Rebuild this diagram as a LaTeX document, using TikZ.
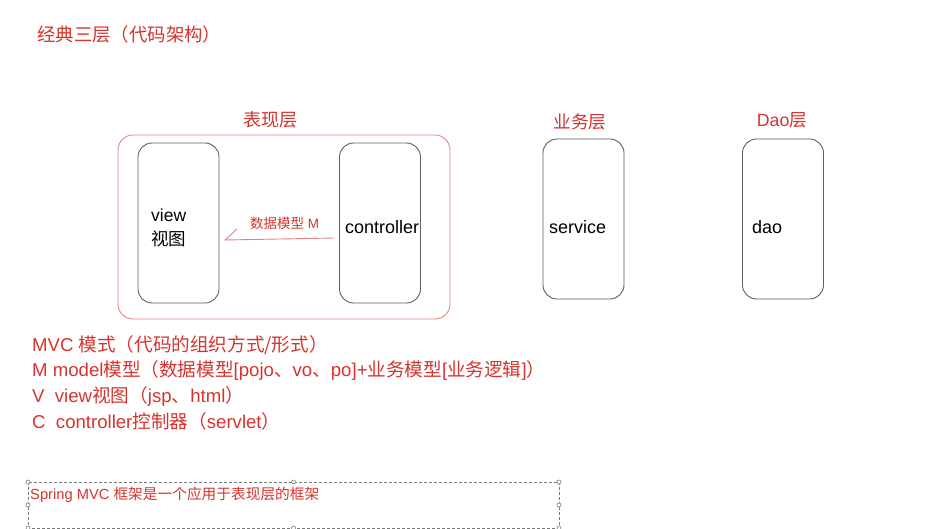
\documentclass[tikz,border=0pt]{standalone}
\usepackage{fontspec}
\setmainfont{Liberation Sans}
\newfontfamily\cjk{Noto Sans CJK SC}
\usetikzlibrary{calc}
\definecolor{txtred}{RGB}{214,52,46}
\definecolor{framered}{RGB}{232,130,130}
\definecolor{boxgray}{RGB}{95,95,95}
\definecolor{dashgray}{RGB}{120,120,120}
\begin{document}
\begin{tikzpicture}[x=1pt,y=-1pt,
  redtxt/.style={text=txtred,inner sep=0pt,anchor=west},
  blacktxt/.style={text=black,inner sep=0pt,anchor=west},
  layerbox/.style={draw=boxgray,line width=0.9pt,rounded corners=14pt,minimum width=81pt,minimum height=160pt,inner sep=0pt},
  groupbox/.style={draw=framered,line width=0.9pt,rounded corners=15pt,minimum width=332pt,minimum height=184pt,inner sep=0pt},
  handle/.style={circle,draw=dashgray,fill=white,line width=0.6pt,minimum size=4pt,inner sep=0pt},
  redline/.style={draw=framered,line width=0.9pt}]
\useasboundingbox (0,0) rectangle (930,529);
\fill[white] (0,0) rectangle (930,529);

% title
\node[redtxt] (title) at (37,35) {\fontsize{18.4}{21}\selectfont\cjk 经典三层（代码架构）};

% presentation layer group
\node[groupbox] (group) at (284,227) {};
\node[text=txtred,inner sep=0pt] (grouplbl) at (270,120) {\fontsize{18}{20}\selectfont\cjk 表现层};

\node[layerbox] (view) at (178.5,223) {};
\node[blacktxt] (viewtxt) at (151,215) {\fontsize{17.5}{20}\selectfont view};
\node[blacktxt] (viewcn) at (151,239) {\fontsize{17.5}{20}\selectfont\cjk 视图};

\node[layerbox] (ctrl) at (380,223) {};
\node[blacktxt] (ctrltxt) at (345,227) {\fontsize{18}{20}\selectfont controller};

\node[redtxt] (mlabel) at (250,223) {\fontsize{13.5}{16}\selectfont{\cjk 数据模型} M};
\coordinate (mtip) at (225,240);
\coordinate (mbarb) at (237,229);
\draw[redline] ($(ctrl.west)+(-5,15)$) -- (mtip) -- (mbarb);

% service layer
\node[text=txtred,inner sep=0pt] (svclbl) at (580,122) {\fontsize{17.7}{20}\selectfont\cjk 业务层};
\node[layerbox] (service) at (583.5,219) {};
\node[blacktxt] (svctxt) at (549,227) {\fontsize{18}{20}\selectfont service};

% dao layer
\node[text=txtred,inner sep=0pt] (daolbl) at (782,120) {\fontsize{17.7}{20}\selectfont Dao{\cjk 层}};
\node[layerbox] (dao) at (783,219) {};
\node[blacktxt] (daotxt) at (752,227) {\fontsize{18}{20}\selectfont dao};

% MVC explanation
\node[redtxt] (l1) at (32,345) {\fontsize{18.6}{21}\selectfont MVC {\cjk 模式（代码的组织方式/形式）}};
\node[redtxt] (l2) at (32,370) {\fontsize{18.6}{21}\selectfont M model{\cjk 模型（数据模型}[pojo{\cjk 、}vo{\cjk 、}po]+{\cjk 业务模型}[{\cjk 业务逻辑}]{\cjk ）}};
\node[redtxt] (l3) at (32,396) {\fontsize{18.6}{21}\selectfont V\ \ view{\cjk 视图（}jsp{\cjk 、}html{\cjk ）}};
\node[redtxt] (l4) at (32,421) {\fontsize{18.6}{21}\selectfont C\ \ controller{\cjk 控制器（}servlet{\cjk ）}};

% dashed text box
\coordinate (dtl) at (28,482);
\coordinate (dbr) at (559,528);
\draw[dashgray,line width=0.8pt,dash pattern=on 3pt off 2pt] (dtl) rectangle (dbr);
\foreach \p in {(28,482),(293.5,482),(559,482),(28,505),(559,505),(28,528),(293.5,528),(559,528)}
  \node[handle] at \p {};
\node[redtxt] (spring) at (30,495) {\fontsize{14.7}{17}\selectfont Spring MVC {\cjk 框架是一个应用于表现层的框架}};
\end{tikzpicture}
\end{document}
